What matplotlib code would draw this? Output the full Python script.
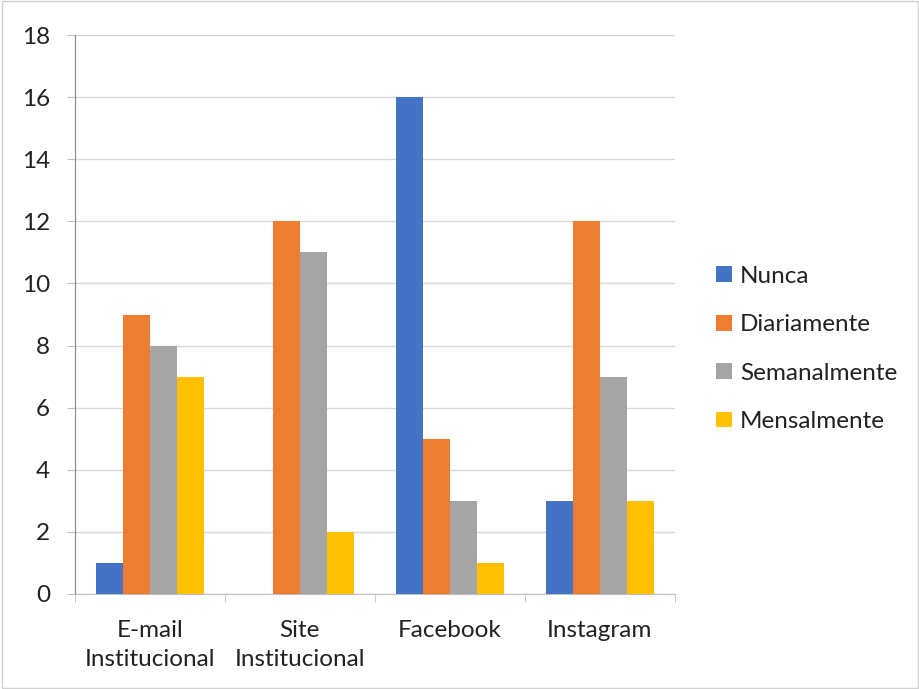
import numpy as np
from matplotlib import pyplot as plt
from matplotlib.patches import Rectangle

categories = ['E-mail\nInstitucional', 'Site\nInstitucional', 'Facebook', 'Instagram']
series = ['Nunca', 'Diariamente', 'Semanalmente', 'Mensalmente']
nunca = [1, 0, 16, 3]
diariamente = [9, 12, 5, 12]
semanalmente = [8, 11, 3, 7]
mensalmente = [7, 2, 1, 3]
colors = ['#4472C4', '#ED7D31', '#A5A5A5', '#FFC000']

plt.rcParams['font.family'] = ['Lato', 'DejaVu Sans']

fig = plt.figure(figsize=(9.2, 6.89), dpi=100)
ax = fig.add_axes([0.0815, 0.138, 0.652, 0.811])

x = np.arange(len(categories))
width = 0.18
values = [nunca, diariamente, semanalmente, mensalmente]
for i, (name, vals) in enumerate(zip(series, values)):
    ax.bar(x + (i - 1.5) * width, vals, width, color=colors[i], label=name, zorder=3)

ax.set_xlim(-0.5, len(categories) - 0.5)
ax.set_ylim(0, 18)
ax.set_yticks(range(0, 19, 2))
ax.yaxis.grid(True, color='#D9D9D9', linewidth=1, zorder=0)

ax.set_xticks(x)
ax.set_xticklabels(categories, fontsize=17.5, linespacing=1.45, color='#222222')
ax.set_xticks(np.arange(-0.5, len(categories)), minor=True)
ax.tick_params(axis='x', which='major', length=0, pad=19)
ax.tick_params(axis='x', which='minor', length=6, color='#BFBFBF', direction='out')
ax.tick_params(axis='y', labelsize=17.5, labelcolor='#222222', length=6, color='#BFBFBF', pad=12)

for s in ['top', 'right']:
    ax.spines[s].set_visible(False)
ax.spines['left'].set_color('#888888')
ax.spines['bottom'].set_color('#BFBFBF')

ax.legend(loc='center left', bbox_to_anchor=(0.755, 0.4935), bbox_transform=fig.transFigure,
          frameon=False, fontsize=17.5, handlelength=0.62, handleheight=0.62,
          labelspacing=1.13, handletextpad=0.35, labelcolor='#222222')

fig.patches.append(Rectangle((0.002, 0.002), 0.996, 0.996, transform=fig.transFigure,
                             fill=False, edgecolor='#D0D0D0', linewidth=1))

fig.savefig('out.png', dpi=100)
